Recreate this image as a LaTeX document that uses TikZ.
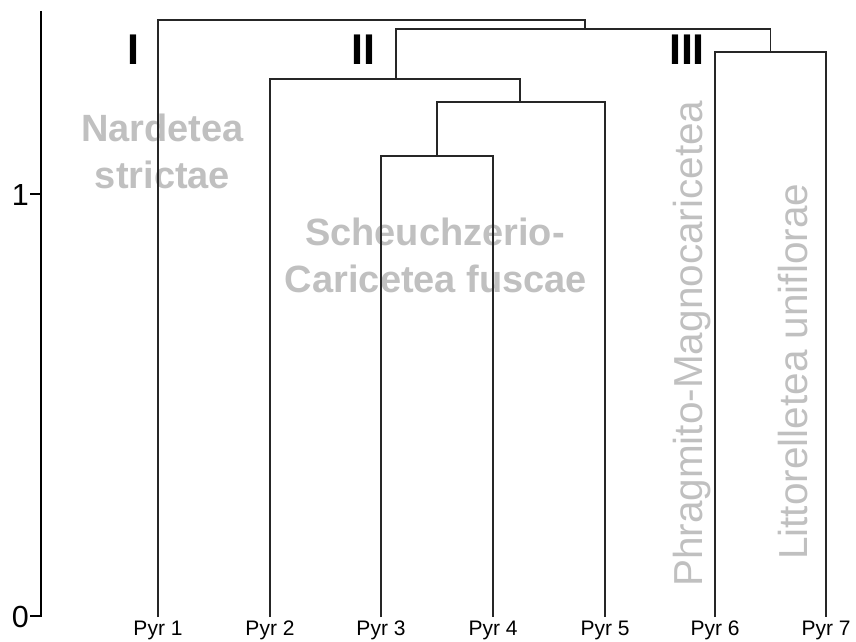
\documentclass[tikz,border=0pt]{standalone}
\usepackage{fontspec}
\setmainfont{Liberation Sans}
\definecolor{lab}{HTML}{C0C0C0}
\definecolor{ln}{HTML}{262626}
\tikzset{
  grp/.style={text=lab, font=\fontsize{38}{46}\selectfont\bfseries, inner sep=0pt, anchor=base},
  vgrp/.style={text=lab, font=\fontsize{40.5}{48}\selectfont, inner sep=0pt, anchor=base west, rotate=90},
  roman/.style={font=\fontsize{43}{50}\selectfont\bfseries, inner sep=0pt, anchor=base},
  leaflab/.style={font=\fontsize{21}{25}\selectfont, inner sep=0pt, anchor=base},
  axlab/.style={font=\fontsize{30.5}{36}\selectfont, inner sep=0pt, anchor=base east},
  branch/.style={draw=ln, line width=1.8pt},
  axisline/.style={draw=black, line width=1.8pt},
}
\begin{document}
\begin{tikzpicture}[x=1pt,y=1pt]
\path[use as bounding box] (0,0) rectangle (856,-642);

% group labels (behind the branches)
\node[grp] (nar1) at (162.5,-141.5) {Nardetea};
\node[grp] (nar2) at (162.5,-188) {strictae};
\node[grp] (sch1) at (435,-245) {Scheuchzerio-};
\node[grp] (sch2) at (436,-292) {Caricetea fuscae};
\node[vgrp] (phr) at (702,-587) {Phragmito-Magnocaricetea};
\node[vgrp] (lit) at (807,-560) {Littorelletea uniflorae};

% roman numerals
\node[roman] (r1) at (133,-64) {I};
\node[roman] (r2) at (363.5,-64) {II};
\node[roman] (r3) at (687,-65) {III};

% leaves
\coordinate (l1) at (158,-617);
\coordinate (l2) at (270,-617);
\coordinate (l3) at (381,-617);
\coordinate (l4) at (493,-617);
\coordinate (l5) at (605,-617);
\coordinate (l6) at (715,-617);
\coordinate (l7) at (826,-617);

\node[leaflab] (p1) at (158,-635) {Pyr 1};
\node[leaflab] (p2) at (270,-635) {Pyr 2};
\node[leaflab] (p3) at (381,-635) {Pyr 3};
\node[leaflab] (p4) at (493,-635) {Pyr 4};
\node[leaflab] (p5) at (605,-635) {Pyr 5};
\node[leaflab] (p6) at (715,-635) {Pyr 6};
\node[leaflab] (p7) at (826,-635) {Pyr 7};

% merge points
\coordinate (A) at (437,-156);
\coordinate (B) at (520,-102);
\coordinate (C) at (396,-79);
\coordinate (D) at (770.5,-52);
\coordinate (E) at (585,-29);
\coordinate (F) at (371.5,-20);

\draw[branch] (l3) |- (A) -| (l4);
\draw[branch] (A) |- (B) -| (l5);
\draw[branch] (l2) |- (C) -| (B);
\draw[branch] (l6) |- (D) -| (l7);
\draw[branch] (C) |- (E) -| (D);
\draw[branch] (l1) |- (F) -| (E);

% axis
\coordinate (axtop) at (40.7,-11);
\coordinate (axbot) at (40.7,-617);
\coordinate (t1) at (40.7,-194);
\coordinate (t0) at (40.7,-616);
\coordinate (t1l) at (30,-194);
\coordinate (t0l) at (30,-616);
\draw[axisline] (axtop) -- (axbot);
\draw[axisline, line width=1.2pt] (t1l) -- (t1);
\draw[axisline, line width=1.2pt] (t0l) -- (t0);
\node[axlab] (a1) at (29,-205) {1};
\node[axlab] (a0) at (29,-627) {0};
\end{tikzpicture}
\end{document}
